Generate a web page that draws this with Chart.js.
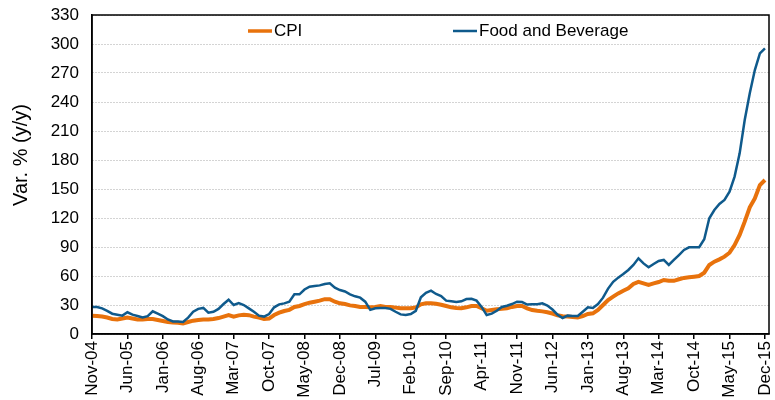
<!DOCTYPE html>
<html>
<head>
<meta charset="utf-8">
<title>CPI vs Food and Beverage</title>
<script src="https://cdn.jsdelivr.net/npm/chart.js@4.4.1/dist/chart.umd.min.js"></script>
<style>
  html, body { margin: 0; padding: 0; background: #fff; }
  #wrap { width: 775px; height: 400px; }
</style>
</head>
<body>
<div id="wrap"><canvas id="myChart" width="775" height="400"></canvas></div>
<script>
// monthly series, Nov-04 .. Dec-15
var monthNames = ["Jan", "Feb", "Mar", "Apr", "May", "Jun", "Jul", "Aug", "Sep", "Oct", "Nov", "Dec"];
var startYear = 2004, startMonth = 10, monthCount = 134;
var months = [];
for (var m = 0; m < monthCount; m++) {
  var mm = (startMonth + m) % 12;
  var yy = startYear + Math.floor((startMonth + m) / 12);
  months.push(monthNames[mm] + "-" + String(yy % 100).padStart(2, "0"));
}

var seriesNames = ["CPI", "Food and Beverage"];
var seriesColors = ["#E8720C", "#0F5A8C"];

var cpi = [
  19, 18.6, 18, 17, 15.5, 15, 16, 17, 16, 15,
  15, 15.5, 15.5, 14.5, 13.4, 12.4, 12, 11.7, 11, 12.4,
  13.8, 14.5, 15, 15, 15.5, 16.5, 18, 19.6, 18, 19.3,
  20, 19.5, 18, 17, 15.5, 16, 19.6, 22, 23.8, 25,
  28, 29, 31, 32.4, 33.4, 34.5, 36, 36, 33.4, 31.7,
  31, 29.6, 29, 28, 28, 27.6, 28, 29, 28, 28,
  27.3, 26.6, 26.6, 26.6, 27.5, 30.7, 31.7, 31.7, 31.3, 30.3,
  29, 27.6, 27, 26.6, 27.6, 29, 29, 26.6, 24, 24.8,
  25.5, 26, 26.6, 28, 29, 29, 26.6, 24.8, 24, 23.4,
  22.5, 21.2, 19.4, 18.4, 18, 17.6, 17.2, 18.6, 20.7, 21.4,
  24.8, 30, 35.2, 38.6, 42, 44.8, 47.2, 51.7, 54, 52.4,
  50.7, 52.4, 53.8, 55.9, 55, 55, 56.6, 58, 58.6, 59.3,
  60, 63.4, 71.4, 74.8, 77.2, 80, 84.1, 92, 102.4, 116.2,
  131, 140.3, 154, 159.3
];

var foodBev = [
  28, 28, 26.5, 24, 21, 20, 19, 22.5, 20, 18.6,
  17, 18.5, 23.5, 21, 18.5, 15, 13, 13, 12.4, 17,
  23, 26, 27, 22, 23, 26, 31, 35.5, 30, 32,
  30, 26.5, 23, 19, 18, 20.7, 27.6, 30.7, 31.7, 33.4,
  41, 41, 46, 49, 49.6, 50.3, 51.7, 52.5, 48, 45.5,
  44, 41, 39, 37.6, 33.4, 25, 26.6, 27, 27, 26,
  23, 20.3, 19.6, 20.7, 24, 38, 42.7, 44.8, 41.4, 39.3,
  34.5, 33.8, 33, 33.8, 36.2, 36.5, 34.5, 28, 19.6, 21,
  24, 28, 29.3, 31, 33.4, 33, 30.5, 30.8, 30.7, 31.7,
  29.5, 25.3, 20, 16.6, 19, 18.6, 18.6, 23, 27.6, 27,
  31, 37.6, 47, 54, 58.3, 62, 66.2, 71.4, 78.3, 73,
  69, 72.4, 75.5, 76.6, 71.4, 76.6, 81.7, 87, 89.7, 89.7,
  89.7, 98, 119.7, 128.3, 134.5, 138.6, 147.2, 162.8, 186.9, 221.4,
  249, 273, 290.3, 295.5
];

var yTitle = "Var. % (y/y)";

function toPoints(values) {
  return values.map(function(v, i) { return { x: i, y: v }; });
}

var FONT = '"Liberation Sans", Arial, sans-serif';

// legend inside the plot, frame round it, y title
var overlay = {
  id: "overlay",
  afterDraw: function(chart) {
    var ctx = chart.ctx, a = chart.chartArea;
    ctx.save();
    ctx.strokeStyle = "#000";
    ctx.lineWidth = 1.5;
    ctx.strokeRect(a.left, a.top, a.right - a.left, a.bottom - a.top);

    var legendAt = [[248, 31, 3.5], [453, 31, 2.5]];
    ctx.font = "17px " + FONT;
    ctx.textBaseline = "middle";
    ctx.textAlign = "left";
    ctx.fillStyle = "#000";
    seriesNames.forEach(function(name, k) {
      var p = legendAt[k];
      ctx.strokeStyle = seriesColors[k];
      ctx.lineWidth = p[2];
      ctx.beginPath();
      ctx.moveTo(p[0], p[1]);
      ctx.lineTo(p[0] + 24, p[1]);
      ctx.stroke();
      ctx.fillText(name, p[0] + 26, p[1]);
    });

    ctx.font = "20px " + FONT;
    ctx.translate(21, 155);
    ctx.rotate(-Math.PI / 2);
    ctx.textAlign = "center";
    ctx.fillText(yTitle, 0, 0);
    ctx.restore();
  }
};

function noSidePad(scale) {
  scale.paddingLeft = 0;
  scale.paddingRight = 0;
  scale.paddingTop = 0;
  scale.paddingBottom = 0;
}

var ctx = document.getElementById("myChart").getContext("2d");
var myChart = new Chart(ctx, {
  type: "line",
  data: {
    datasets: [{
      label: seriesNames[0],
      data: toPoints(cpi),
      borderColor: seriesColors[0],
      borderWidth: 4,
      order: 2
    }, {
      label: seriesNames[1],
      data: toPoints(foodBev),
      borderColor: seriesColors[1],
      borderWidth: 2.5,
      order: 1
    }]
  },
  options: {
    responsive: false,
    animation: false,
    elements: { point: { radius: 0 }, line: { tension: 0 } },
    layout: { padding: { top: 15, right: 6, left: 0, bottom: 0 } },
    plugins: { legend: { display: false }, tooltip: { enabled: false } },
    scales: {
      x: {
        type: "linear",
        min: 0,
        max: 133.8,
        afterFit: function(scale) { scale.height = 66; noSidePad(scale); },
        grid: { drawOnChartArea: false, drawTicks: true, tickLength: 5, color: "#000", lineWidth: 1.5 },
        border: { color: "#000", width: 1.5 },
        ticks: {
          stepSize: 7,
          includeBounds: false,
          autoSkip: false,
          maxRotation: 90,
          minRotation: 90,
          padding: 2,
          color: "#000",
          font: { family: FONT, size: 17 },
          callback: function(value) { return months[value] || ""; }
        }
      },
      y: {
        min: 0,
        max: 330,
        afterFit: function(scale) { scale.width = 92; noSidePad(scale); },
        grid: { drawTicks: false, color: "#a8a8a8", lineWidth: 1 },
        border: { color: "#000", width: 1.5, dash: [1, 2] },
        ticks: {
          stepSize: 30,
          padding: 13,
          color: "#000",
          font: { family: FONT, size: 17 }
        }
      }
    }
  },
  plugins: [overlay]
});
</script>
</body>
</html>
